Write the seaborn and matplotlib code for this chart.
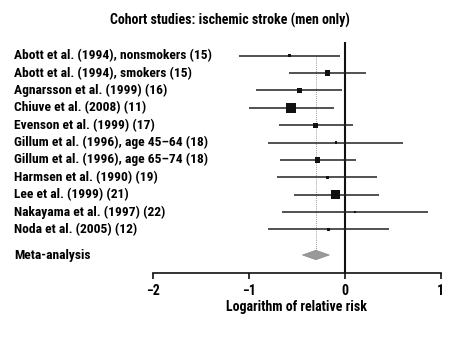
import matplotlib
matplotlib.use("Agg")
import matplotlib.pyplot as plt
import matplotlib.transforms as mtransforms
import seaborn as sns
import pandas as pd
import numpy as np

studies = [
    "Abott et al. (1994), nonsmokers (15)",
    "Abott et al. (1994), smokers (15)",
    "Agnarsson et al. (1999) (16)",
    "Chiuve et al. (2008) (11)",
    "Evenson et al. (1999) (17)",
    "Gillum et al. (1996), age 45\u201364 (18)",
    "Gillum et al. (1996), age 65\u201374 (18)",
    "Harmsen et al. (1990) (19)",
    "Lee et al. (1999) (21)",
    "Nakayama et al. (1997) (22)",
    "Noda et al. (2005) (12)",
]
estimate = [-0.57, -0.18, -0.47, -0.56, -0.30, -0.09, -0.28, -0.18, -0.10, 0.11, -0.17]
lower = [-1.10, -0.58, -0.92, -1.00, -0.68, -0.80, -0.67, -0.71, -0.53, -0.65, -0.80]
upper = [-0.05, 0.22, -0.03, -0.11, 0.09, 0.61, 0.12, 0.34, 0.36, 0.87, 0.46]
weight = [3.0, 5.5, 4.6, 10.3, 5.0, 2.7, 5.3, 3.0, 9.0, 2.3, 3.0]
meta_label = "Meta-analysis"
meta_est = -0.30
meta_lo = -0.44
meta_hi = -0.16
xticks = [-2, -1, 0, 1]
title = "Cohort studies: ischemic stroke (men only)"
xlabel = "Logarithm of relative risk"

sns.set_style("white")
FONT = ["Roboto Condensed", "DejaVu Sans"]
plt.rcParams["font.family"] = FONT
plt.rcParams["font.weight"] = "bold"
plt.rcParams["text.color"] = "black"
plt.rcParams["xtick.color"] = "black"
plt.rcParams["axes.labelcolor"] = "black"

FS = 9.7
W, H = 459, 337
fig = plt.figure(figsize=(W / 100, H / 100), dpi=100)
x0, x1 = 152.7, 440.7
ytop, ybot = 42.0, 273.3
ax = fig.add_axes([x0 / W, (H - ybot) / H, (x1 - x0) / W, (ybot - ytop) / H])

row0, step = 55.7, 17.36
meta_pos = (255 - row0) / step
ax.set_xlim(-2, 1)
ax.set_ylim((ybot - row0) / step, (ytop - row0) / step)

df = pd.DataFrame({"study": studies, "est": estimate, "lo": lower, "hi": upper,
                   "w": weight, "pos": np.arange(len(studies))})
df["s"] = (df["w"] * 0.72) ** 2

ax.hlines(df["pos"], df["lo"], df["hi"], color="#222222", lw=1.1, zorder=2)
sns.scatterplot(data=df, x="est", y="pos", size="s", sizes=(df["s"].min(), df["s"].max()),
                marker="s", color="#111111", edgecolor="none", legend=False, ax=ax, zorder=3)

# zero line and dotted meta line
ax.axvline(0, color="#111111", lw=1.5, zorder=1)
ax.plot([meta_est, meta_est], [0, meta_pos], ls=(0, (1, 1.5)), color="#777777", lw=0.6, zorder=1)

# diamond
dh = 0.27
ax.fill([meta_lo, meta_est, meta_hi, meta_est], [meta_pos, meta_pos - dh, meta_pos, meta_pos + dh],
        color="#999999", edgecolor="#888888", lw=0.5, zorder=3)

# labels
trans = mtransforms.blended_transform_factory(fig.transFigure, ax.transData)
for i, s in enumerate(studies):
    ax.text(14 / W, i, s, transform=trans, ha="left", va="center", fontsize=FS,
            fontweight="bold", family=FONT, color="black")
ax.text(14 / W, meta_pos, meta_label, transform=trans, ha="left", va="center", fontsize=FS,
        fontweight="bold", family=FONT, color="black")

for sp in ["top", "left", "right"]:
    ax.spines[sp].set_visible(False)
ax.spines["bottom"].set_bounds(-2, 1)
ax.spines["bottom"].set_linewidth(1.2)
ax.spines["bottom"].set_color("#111111")
ax.set_yticks([])
ax.set_xticks(xticks)
ax.set_xticklabels([f"{t}".replace("-", "\u2212") for t in xticks], fontsize=10, fontweight="bold")
ax.tick_params(axis="x", direction="out", length=4.5, width=1.2, color="#111111", pad=3,
               bottom=True)
ax.set_xlabel(xlabel, fontsize=10, fontweight="bold", labelpad=2, color="black")
ax.set_ylabel("")

fig.text(230 / W, 1 - 20 / H, title, ha="center", va="center", fontsize=10, fontweight="bold",
         family=FONT, color="black")

fig.savefig("out.png", dpi=100)
